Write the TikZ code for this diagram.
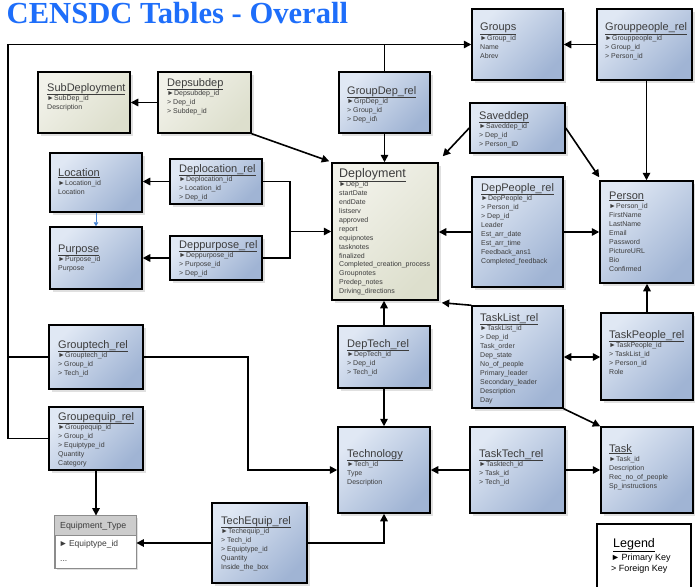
\documentclass[tikz,border=0pt]{standalone}
\usepackage{fontspec}
\setmainfont{Liberation Sans}
\newfontfamily\titlefont{Liberation Serif}
\usetikzlibrary{arrows.meta,shadows,fit}
\definecolor{ttlblue}{RGB}{30,110,250}
\definecolor{bluelt}{RGB}{224,232,244}
\definecolor{bluedk}{RGB}{160,180,212}
\definecolor{beigelt}{RGB}{242,242,234}
\definecolor{beigedk}{RGB}{221,223,205}
\definecolor{fldgray}{RGB}{60,60,60}
\definecolor{linkblue}{RGB}{70,130,210}
\tikzset{
  ent/.style={draw=black, line width=1.5pt, inner sep=0pt,
    left color=bluelt, right color=bluedk, shading angle=45,
    drop shadow={shadow xshift=3pt, shadow yshift=-3pt, fill=black!30, opacity=0.4}},
  entb/.style={ent, left color=beigelt, right color=beigedk, shading angle=45},
  ttl/.style={anchor=base west, inner sep=0pt, text=fldgray},
  fld/.style={anchor=base west, inner sep=0pt, text=fldgray, font=\fontsize{7}{8.9}\selectfont},
  ln/.style={line width=1.6pt, draw=black},
  arr/.style={ln, -{Triangle[length=7.5pt,width=7.5pt]}},
  dbl/.style={ln, {Triangle[length=7.5pt,width=7.5pt]}-{Triangle[length=7.5pt,width=7.5pt]}},
}
\newcommand\ebox[6][ent]{\node[#1, fit={(#3,#4) (#5,#6)}] (#2) {};}
\newcommand\etext[5][\fontsize{11}{11}\selectfont]{%
  \node[ttl, font=#1] at (#2,#3+4) {\underline{#4}};
  \foreach \f [count=\i from 0] in {#5} {\node[fld] at (#2,#3+13.4+8.95*\i) {\f};}
}
\begin{document}
\begin{tikzpicture}[x=1pt,y=-1pt]
\useasboundingbox[fill=white] (0,0) rectangle (695,586);

% title
\node[anchor=base west, inner sep=0pt, text=ttlblue,
  font=\titlefont\bfseries\fontsize{30.6}{31}\selectfont] (title) at (6.5,23.5) {CENSDC Tables - Overall};

% boxes
\ebox{groups}{472}{9}{563}{80}
\ebox{grouppeople}{597}{9}{692}{80}
\ebox{groupdep}{339}{72}{430}{133}
\ebox{saveddep}{470}{103}{565}{153}
\ebox[entb]{subdep}{38}{72}{130}{133}
\ebox[entb]{depsubdep}{158}{72}{251}{133}
\ebox{location}{50}{153}{142}{212}
\ebox{purpose}{50}{227}{142}{289}
\ebox{deplocation}{170}{159}{262}{204}
\ebox{deppurpose}{170}{236}{262}{280}
\ebox[entb]{deployment}{332}{163}{438}{300}
\ebox{deppeople}{472}{177}{563}{287}
\ebox{person}{600}{181}{693}{283}
\ebox{grouptech}{49}{325}{143}{389}
\ebox{groupequip}{49}{407}{143}{470}
\ebox{deptech}{338}{326}{430}{388}
\ebox{tasklist}{472}{306}{563}{408}
\ebox{taskpeople}{601}{313}{693}{400}
\ebox{technology}{338}{427}{430}{513}
\ebox{tasktech}{470}{427}{565}{513}
\ebox{task}{601}{427}{693}{513}
\ebox{techequip}{212}{503}{307}{583}

% equipment type
\node[fit={(55,516) (136,568)}, inner sep=0pt, draw=black!45, line width=0.9pt, fill=white,
  drop shadow={shadow xshift=2pt, shadow yshift=-2pt, fill=black!30, opacity=0.4}] (equip) {};
\fill[black!20] ([shift={(0.5,0.5)}]equip.north west) rectangle (135.5,535);
\draw[black!45, line width=0.9pt] (55,535) -- (136,535);
\draw[black!45, line width=0.9pt] (equip.north west) rectangle (equip.south east);
\node[anchor=base west, inner sep=0pt, text=fldgray, font=\fontsize{8.8}{10}\selectfont] (eqh) at (60,528) {Equipment\_Type};
\node[anchor=base west, inner sep=0pt, text=fldgray, font=\fontsize{8.5}{10}\selectfont] (eqf1) at (59,546.5) {►\,Equiptype\_id};
\node[anchor=base west, inner sep=0pt, text=fldgray, font=\fontsize{8.5}{10}\selectfont] (eqf2) at (60,561) {...};

% legend
\node[fit={(597,524) (691,592)}, inner sep=0pt, draw=black, line width=1.3pt, fill=white] (legend) {};
\node[anchor=base west, inner sep=0pt, font=\fontsize{12.5}{13}\selectfont] (legt) at (613,547.5) {\underline{Legend}};
\node[anchor=base west, inner sep=0pt, font=\fontsize{9}{10}\selectfont] (legp) at (611,560.5) {►\,Primary Key};
\node[anchor=base west, inner sep=0pt, font=\fontsize{9}{10}\selectfont] (legf) at (611,571) {> Foreign Key};

% connectors
\coordinate (lft) at (8,44);
\coordinate (jn) at (290,231);
\coordinate (jt) at (248,400);
\draw[arr] (groupequip.west) -- (groupequip.west -| lft) |- (groups.west);
\draw[ln] (grouptech.west) -- (grouptech.west -| lft);
\draw[ln] (groupdep.north) -- (groupdep.north |- groups.west);
\draw[arr] (grouppeople.west) -- (grouppeople.west -| groups.east);
\draw[arr] (grouppeople.south -| person.north) -- (person.north);
\draw[arr] (groupdep.south) -- (groupdep.south |- deployment.north);
\draw[arr] (saveddep.west) -- ([shift={(4,-6)}]deployment.north east);
\draw[arr] (saveddep.east) -- ([shift={(0,-3)}]person.north west);
\draw[arr] (depsubdep.west) -- (depsubdep.west -| subdep.east);
\draw[arr] (depsubdep.south east) -- ([shift={(-2,-1)}]deployment.north west);
\draw[arr] (deplocation.west) -- (deplocation.west -| location.east);
\draw[arr] (deppurpose.west) -- (deppurpose.west -| purpose.east);
\draw[ln] (deplocation.east) -| (jn) |- (deppurpose.east);
\draw[arr] (jn |- deployment.west) -- (deployment.west);
\draw[draw=linkblue, line width=0.9pt, -{Triangle[length=4pt,width=4.5pt]}] (location.south) -- (purpose.north);
\draw[arr] (deppeople.west) -- (deppeople.west -| deployment.east);
\draw[arr] (deppeople.east) -- (deppeople.east -| person.west);
\draw[arr] (tasklist.north west) -- ([shift={(3,2)}]deployment.south east);
\draw[arr] (deptech.north) -- (deptech.north |- deployment.south);
\draw[arr] (deptech.south) -- (deptech.south |- technology.north);
\draw[dbl] (tasklist.east) -- (tasklist.east -| taskpeople.west);
\draw[arr] (taskpeople.north) -- (taskpeople.north |- person.south);
\draw[arr] (tasklist.south east) -- (task.north west);
\draw[arr] (tasktech.west) -- (tasktech.west -| technology.east);
\draw[arr] (tasktech.east) -- (tasktech.east -| task.west);
\draw[arr] (grouptech.east) -- (grouptech.east -| jt) |- (technology.west);
\draw[arr] (groupequip.south) -- (groupequip.south |- equip.north);
\draw[arr] (techequip.west) -- (techequip.west -| equip.east);
\draw[arr] (techequip.east) -| (technology.south);

% texts
\etext{480}{27}{Groups}{►Group\_id, Name, Abrev}
\etext{605}{27}{Grouppeople\_rel}{►Grouppeople\_id, > Group\_id, > Person\_id}
\etext{347}{90}{GroupDep\_rel}{►GrpDep\_id, > Group\_id, > Dep\_id\textbackslash}
\etext{479}{115}{Saveddep}{►Saveddep\_id, > Dep\_id, > Person\_ID}
\etext{47}{87}{SubDeployment}{►SubDep\_id, Description}
\etext{167}{82}{Depsubdep}{►Depsubdep\_id, > Dep\_id, > Subdep\_id}
\etext{58}{172}{Location}{►Location\_id, Location}
\etext{58}{248}{Purpose}{►Purpose\_id, Purpose}
\etext{179}{168}{Deplocation\_rel}{►Deplocation\_id, > Location\_id, > Dep\_id}
\etext{179}{244}{Deppurpose\_rel}{►Deppurpose\_id, > Purpose\_id, > Dep\_id}
\etext[\fontsize{12.5}{12.5}\selectfont]{339}{173}{Deployment}{►Dep\_id, startDate, endDate, listserv, approved, report, equipnotes, tasknotes, finalized, Completed\_creation\_process, Groupnotes, Predep\_notes, Driving\_directions}
\etext{481}{187}{DepPeople\_rel}{►DepPeople\_id, > Person\_id, > Dep\_id, Leader, Est\_arr\_date, Est\_arr\_time, Feedback\_ans1, ..., Feedback\_ans10, Completed\_feedback}
\etext{609}{195}{Person}{►Person\_id, FirstName, LastName, Email, Password, PictureURL, Bio, Confirmed}
\etext{58}{344}{Grouptech\_rel}{►Grouptech\_id, > Group\_id, > Tech\_id}
\etext{58}{416}{Groupequip\_rel}{►Groupequip\_id, > Group\_id, > Equiptype\_id, Quantity, Category}
\etext{347}{343}{DepTech\_rel}{►DepTech\_id, > Dep\_id, > Tech\_id}
\etext{480}{317}{TaskList\_rel}{►TaskList\_id, > Dep\_id, Task\_order, Dep\_state, No\_of\_people, Primary\_leader, Secondary\_leader, Description, Day}
\etext{609}{334}{TaskPeople\_rel}{►TaskPeople\_id, > TaskList\_id, > Person\_id, Role}
\etext{347}{453}{Technology}{►Tech\_id, Type, Description}
\etext{479}{453}{TaskTech\_rel}{►Tasktech\_id, > Task\_id, > Tech\_id}
\etext{609}{448}{Task}{►Task\_id, Description, Rec\_no\_of\_people, Sp\_instructions}
\etext{221}{520}{TechEquip\_rel}{►Techequip\_id, > Tech\_id, > Equiptype\_id, Quantity, Inside\_the\_box}
\end{tikzpicture}
\end{document}
